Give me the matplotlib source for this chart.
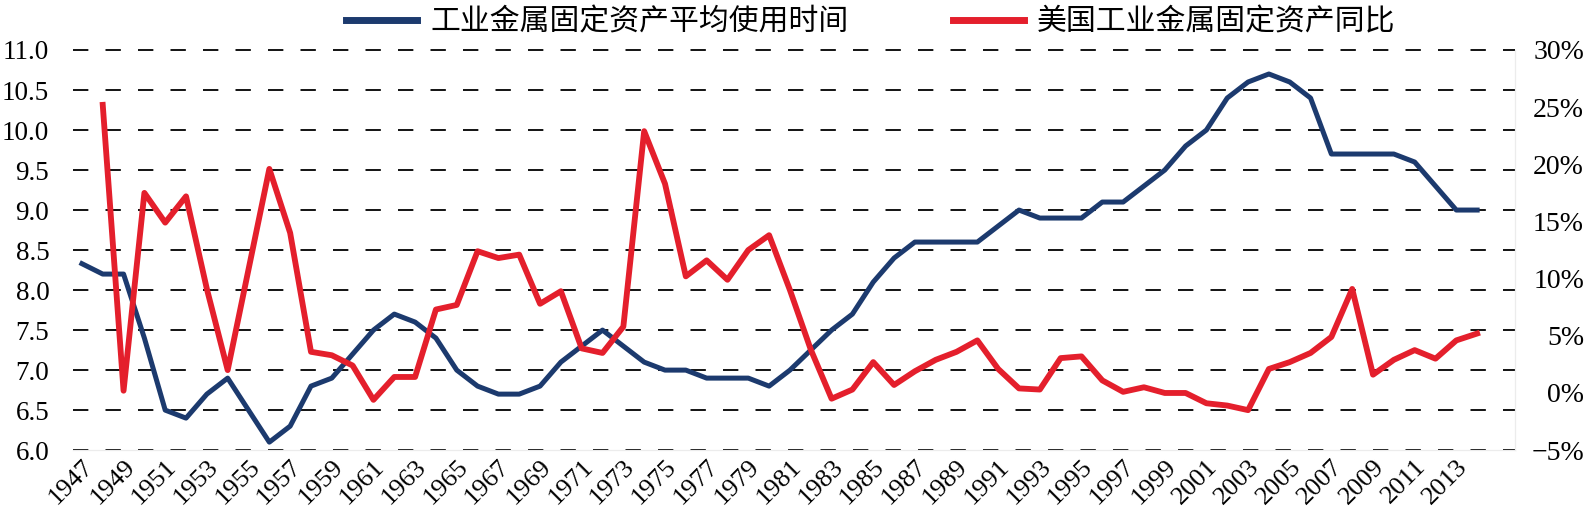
import matplotlib
matplotlib.use("Agg")
import matplotlib.pyplot as plt
from matplotlib.ticker import FuncFormatter

plt.rcParams['font.family'] = ['Liberation Serif', 'Noto Sans CJK SC']

# average service life of US industrial metal fixed assets (years), 1947-2014
life_years = list(range(1947, 2015))
life_avg = [8.33, 8.2, 8.2, 7.4, 6.5, 6.4, 6.7, 6.9, 6.5, 6.1,
            6.3, 6.8, 6.9, 7.2, 7.5, 7.7, 7.6, 7.4, 7.0, 6.8,
            6.7, 6.7, 6.8, 7.1, 7.3, 7.5, 7.3, 7.1, 7.0, 7.0,
            6.9, 6.9, 6.9, 6.8, 7.0, 7.25, 7.5, 7.7, 8.1, 8.4,
            8.6, 8.6, 8.6, 8.6, 8.8, 9.0, 8.9, 8.9, 8.9, 9.1,
            9.1, 9.3, 9.5, 9.8, 10.0, 10.4, 10.6, 10.7, 10.6, 10.4,
            9.7, 9.7, 9.7, 9.7, 9.6, 9.3, 9.0, 9.0]

# YoY growth of US industrial metal fixed assets (%), 1948-2014
yoy_years = list(range(1948, 2015))
yoy_pct = [25.2, 0.2, 17.5, 14.9, 17.2, 9.1, 2.0, 10.8, 19.6, 14.0,
           3.6, 3.3, 2.4, -0.6, 1.4, 1.4, 7.3, 7.7, 12.4, 11.8,
           12.1, 7.8, 8.9, 3.9, 3.5, 5.8, 22.9, 18.3, 10.2, 11.6,
           9.9, 12.5, 13.8, 9.0, 3.8, -0.5, 0.3, 2.7, 0.7, 1.9,
           2.9, 3.6, 4.6, 2.1, 0.4, 0.3, 3.05, 3.2, 1.1, 0.1,
           0.5, 0.0, 0.0, -0.9, -1.1, -1.5, 2.1, 2.7, 3.5, 4.9,
           9.1, 1.6, 2.9, 3.75, 3.0, 4.6, 5.2]

left_ticks = [6.0, 6.5, 7.0, 7.5, 8.0, 8.5, 9.0, 9.5, 10.0, 10.5, 11.0]
right_ticks = [-5, 0, 5, 10, 15, 20, 25, 30]
x_ticks = list(range(1947, 2014, 2))

label_life = '工业金属固定资产平均使用时间'
label_yoy = '美国工业金属固定资产同比'

blue = '#1c3a6e'
red = '#e41f2c'

fig = plt.figure(figsize=(15.86, 5.18), dpi=100)
ax = fig.add_axes([0.046, 0.131, 0.909, 0.7725])
ax2 = ax.twinx()

l1, = ax.plot(life_years, life_avg, color=blue, lw=3.6, solid_joinstyle='round')
l2, = ax2.plot(yoy_years, yoy_pct, color=red, lw=4.2, solid_joinstyle='round')

ax.set_xlim(1946.57, 2015.8)
ax.set_ylim(6, 11)
ax2.set_ylim(-5, 30)

ax.set_yticks(left_ticks)
ax.set_yticklabels(['%.1f' % v for v in left_ticks])
ax2.set_yticks(right_ticks)
ax2.yaxis.set_major_formatter(FuncFormatter(lambda v, p: ('%d%%' % v).replace('-', '−')))

ax.set_xticks(x_ticks)
ax.set_xticklabels([str(y) for y in x_ticks], rotation=45, ha='right',
                   va='top', rotation_mode='anchor')

ax.yaxis.grid(True, color='black', lw=1.3, linestyle=(0, (8.5, 9.5)))
for gl in ax.get_ygridlines():
    gl.set_clip_on(False)
ax.set_axisbelow(True)

ax.tick_params(axis='x', length=0, labelsize=19, pad=4)
ax.tick_params(axis='y', length=0, labelsize=19.5, pad=17)
ax2.tick_params(axis='y', length=0, labelsize=20, pad=50)
for t in ax2.get_yticklabels():
    t.set_ha('right')

for a in (ax, ax2):
    for s in a.spines.values():
        s.set_color('#ececec')
        s.set_linewidth(0.8)
    a.spines['top'].set_visible(False)
    a.spines['left'].set_visible(False)

leg = fig.legend([l1, l2], [label_life, label_yoy], loc='upper center',
                 bbox_to_anchor=(0.549, 1.035), ncol=2, frameon=False,
                 fontsize=21.5, handlelength=2.37, handletextpad=0.43,
                 columnspacing=3.5)
for h in leg.get_lines():
    h.set_linewidth(5)

fig.savefig('out.png', dpi=100)
